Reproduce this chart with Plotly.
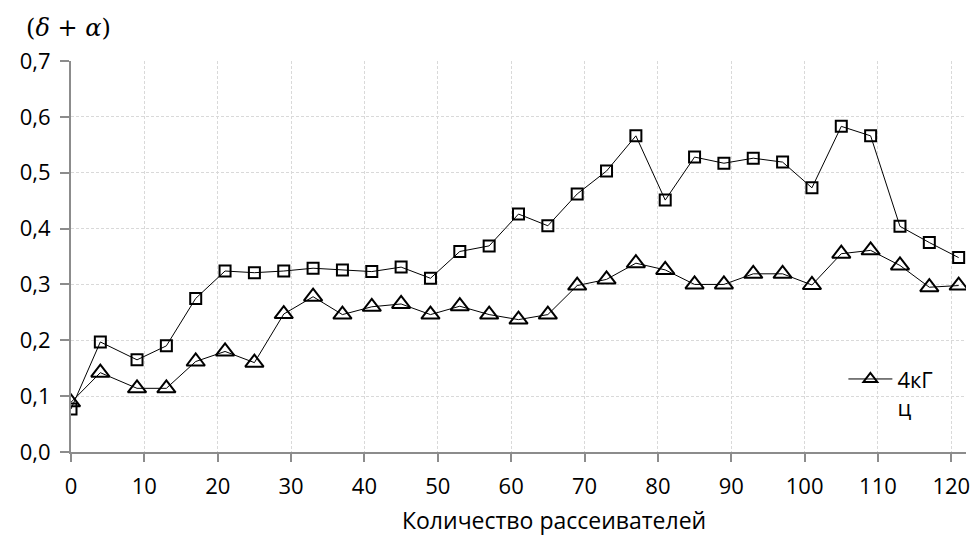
import plotly.graph_objects as go

x_vals = [0, 4, 9, 13, 17, 21, 25, 29, 33, 37, 41, 45, 49, 53, 57, 61,
          65, 69, 73, 77, 81, 85, 89, 93, 97, 101, 105, 109, 113, 117, 121]

squares = [0.077, 0.197, 0.165, 0.190, 0.275, 0.324, 0.321, 0.324, 0.329, 0.326,
           0.323, 0.331, 0.311, 0.359, 0.369, 0.426, 0.405, 0.462, 0.503, 0.566,
           0.451, 0.528, 0.517, 0.526, 0.519, 0.473, 0.583, 0.566, 0.404, 0.375, 0.348]

triangles = [0.089, 0.142, 0.114, 0.114, 0.162, 0.180, 0.160, 0.247, 0.278, 0.246,
             0.260, 0.265, 0.246, 0.261, 0.246, 0.237, 0.246, 0.298, 0.309, 0.338,
             0.326, 0.300, 0.300, 0.319, 0.319, 0.299, 0.355, 0.361, 0.334, 0.295, 0.298]

x_ticks = [0, 10, 20, 30, 40, 50, 60, 70, 80, 90, 100, 110, 120]
y_ticks = [0.0, 0.1, 0.2, 0.3, 0.4, 0.5, 0.6, 0.7]

legend_name = "4кГ<br>ц"

FONT = "Open Sans"
AXIS_COLOR = "#8c8c8c"
GRID_COLOR = "#d9d9d9"

fig = go.Figure()

fig.add_trace(go.Scatter(
    x=x_vals, y=squares, mode="lines+markers", name="sq",
    showlegend=False,
    line=dict(color="black", width=1),
    marker=dict(symbol="square-open", size=11, color="black",
                line=dict(color="black", width=2)),
))

fig.add_trace(go.Scatter(
    x=x_vals, y=triangles, mode="lines+markers", name=legend_name,
    showlegend=False, legendgroup="tri",
    line=dict(color="black", width=1),
    marker=dict(symbol="triangle-up-open", size=16, color="black",
                line=dict(color="black", width=2)),
))

# legend entry (no data of its own) with the smaller legend symbol
fig.add_trace(go.Scatter(
    x=[None], y=[None], mode="lines+markers", name=legend_name,
    showlegend=True, legendgroup="tri",
    line=dict(color="black", width=1),
    marker=dict(symbol="triangle-up-open", size=12, color="black",
                line=dict(color="black", width=2)),
))

fig.update_layout(
    width=978, height=535,
    margin=dict(l=71, r=8, t=61, b=83),
    paper_bgcolor="white", plot_bgcolor="white",
    separators=", ",
    font=dict(family=FONT, size=22, color="black"),
    showlegend=True,
    legend=dict(
        x=0.863, y=0.24, xanchor="left", yanchor="top",
        bgcolor="rgba(0,0,0,0)", borderwidth=0,
        font=dict(family=FONT, size=22, color="black"),
        itemwidth=44, valign="top",
        tracegroupgap=0,
    ),
    xaxis=dict(
        range=[0, 122], tickmode="array", tickvals=x_ticks,
        showline=True, linecolor=AXIS_COLOR, linewidth=2,
        ticks="outside", ticklen=8, tickcolor=AXIS_COLOR, tickwidth=2,
        showgrid=True, gridcolor=GRID_COLOR, gridwidth=1, griddash="3px,2px",
        zeroline=False, ticklabelstandoff=6,
        tickfont=dict(family=FONT, size=22, color="black"),
    ),
    yaxis=dict(
        range=[0, 0.7], tickmode="array", tickvals=y_ticks, tickformat=".1f",
        showline=True, linecolor=AXIS_COLOR, linewidth=2,
        ticks="outside", ticklen=9, tickcolor=AXIS_COLOR, tickwidth=2,
        showgrid=True, gridcolor=GRID_COLOR, gridwidth=1, griddash="3px,2px",
        zeroline=False, ticklabelstandoff=5,
        tickfont=dict(family=FONT, size=22, color="black"),
    ),
    annotations=[
        dict(text="(<i>δ</i> + <i>α</i>)", xref="paper", yref="paper",
             x=-0.003, y=1.084, xanchor="center", yanchor="middle",
             showarrow=False,
             font=dict(family="DejaVu Serif", size=24, color="black")),
        dict(text="Количество рассеивателей", xref="paper", yref="paper",
             x=0.5395, y=-0.174, xanchor="center", yanchor="middle",
             showarrow=False,
             font=dict(family=FONT, size=23, color="black")),
    ],
)

fig.write_html("out.html")
